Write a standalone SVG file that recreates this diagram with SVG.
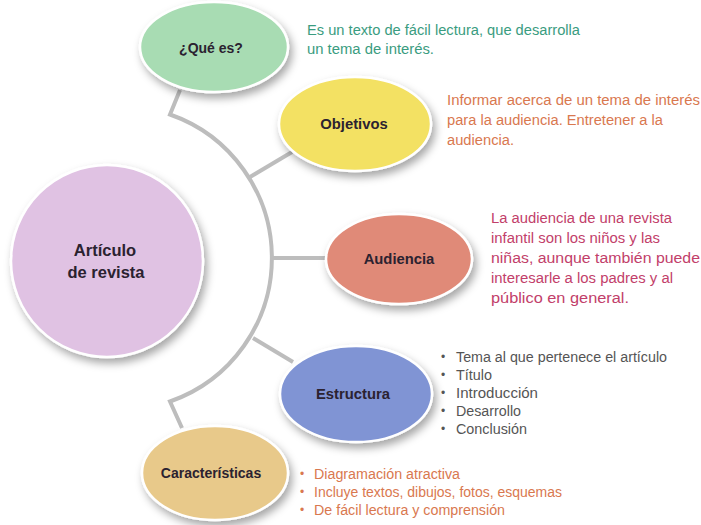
<svg xmlns="http://www.w3.org/2000/svg" width="701" height="525" viewBox="0 0 701 525">
  <defs>
    <filter id="sh" x="-30%" y="-30%" width="170%" height="170%">
      <feDropShadow dx="3" dy="5" stdDeviation="4" flood-color="#000" flood-opacity="0.35"/>
    </filter>
    <style>
      .conn { fill: none; stroke: #bdbdbd; stroke-width: 4; stroke-linecap: butt; stroke-linejoin: miter; }
      .node { stroke: #ffffff; stroke-width: 2.5; filter: url(#sh); }
      .lbl { font-family: "Liberation Sans", Arial, sans-serif; font-weight: bold; font-size: 14.8px; fill: #2b2230; text-anchor: middle; }
      .sm { font-size: 14px; }
      .big { font-size: 16.5px; }
      .txt { font-family: "Liberation Sans", Arial, sans-serif; font-size: 14px; }
      .green { fill: #3a9c80; }
      .orange { fill: #d9784f; }
      .pink { fill: #c2406a; }
      .gray { fill: #555555; }
      .bul { font-family: "Liberation Sans", Arial, sans-serif; font-size: 12px; }
    </style>
  </defs>
  <rect width="701" height="525" fill="#ffffff"/>

  <g id="connectors">
    <path class="conn" d="M180,90 L170,114.5 A152,152 0 0 1 170,401.5 L182,428"/>
    <line class="conn" x1="250" y1="177" x2="292" y2="152"/>
    <line class="conn" x1="272" y1="258" x2="328" y2="258"/>
    <line class="conn" x1="253" y1="338" x2="293" y2="362"/>
  </g>

  <g id="articulo">
    <circle class="node" cx="107" cy="261" r="96" fill="#e0c2e3"/>
    <text class="lbl big" x="105" y="256">Artículo</text>
    <text class="lbl big" x="106" y="278">de revista</text>
  </g>

  <g id="que-es">
    <ellipse class="node" cx="214" cy="47" rx="74" ry="45" fill="#a8dcb3"/>
    <text class="lbl sm" x="211" y="53">¿Qué es?</text>
  </g>

  <g id="objetivos">
    <ellipse class="node" cx="355" cy="124" rx="76" ry="47" fill="#f3e163"/>
    <text class="lbl" x="354" y="129">Objetivos</text>
  </g>

  <g id="audiencia">
    <ellipse class="node" cx="399" cy="259" rx="73" ry="45" fill="#e08a78"/>
    <text class="lbl" x="399" y="264">Audiencia</text>
  </g>

  <g id="estructura">
    <ellipse class="node" cx="356" cy="394" rx="76" ry="48" fill="#8094d4"/>
    <text class="lbl" x="353" y="399">Estructura</text>
  </g>

  <g id="caracteristicas">
    <ellipse class="node" cx="215" cy="473" rx="73" ry="47" fill="#e8c98a"/>
    <text class="lbl sm" x="211" y="478">Características</text>
  </g>

  <g id="text-que-es" class="txt green">
    <text x="307" y="35" textLength="273" lengthAdjust="spacingAndGlyphs">Es un texto de fácil lectura, que desarrolla</text>
    <text x="307" y="54" textLength="127" lengthAdjust="spacingAndGlyphs">un tema de interés.</text>
  </g>

  <g id="text-objetivos" class="txt orange">
    <text x="447" y="105" textLength="253" lengthAdjust="spacingAndGlyphs">Informar acerca de un tema de interés</text>
    <text x="447" y="125" textLength="216" lengthAdjust="spacingAndGlyphs">para la audiencia. Entretener a la</text>
    <text x="447" y="145" textLength="67" lengthAdjust="spacingAndGlyphs">audiencia.</text>
  </g>

  <g id="text-audiencia" class="txt pink">
    <text x="491" y="223" textLength="181" lengthAdjust="spacingAndGlyphs">La audiencia de una revista</text>
    <text x="491" y="243" textLength="169" lengthAdjust="spacingAndGlyphs">infantil son los niños y las</text>
    <text x="491" y="263" textLength="209" lengthAdjust="spacingAndGlyphs">niñas, aunque también puede</text>
    <text x="491" y="283" textLength="182" lengthAdjust="spacingAndGlyphs">interesarle a los padres y al</text>
    <text x="491" y="303" textLength="138" lengthAdjust="spacingAndGlyphs">público en general.</text>
  </g>

  <g id="text-estructura" class="txt gray">
    <text class="bul" x="441" y="361">•</text>
    <text x="456" y="362" textLength="211" lengthAdjust="spacingAndGlyphs">Tema al que pertenece el artículo</text>
    <text class="bul" x="441" y="379">•</text>
    <text x="456" y="380" textLength="36" lengthAdjust="spacingAndGlyphs">Título</text>
    <text class="bul" x="441" y="397">•</text>
    <text x="456" y="398" textLength="82" lengthAdjust="spacingAndGlyphs">Introducción</text>
    <text class="bul" x="441" y="415">•</text>
    <text x="456" y="416" textLength="65" lengthAdjust="spacingAndGlyphs">Desarrollo</text>
    <text class="bul" x="441" y="433">•</text>
    <text x="456" y="434" textLength="71" lengthAdjust="spacingAndGlyphs">Conclusión</text>
  </g>

  <g id="text-caracteristicas" class="txt orange">
    <text class="bul" x="300" y="478">•</text>
    <text x="314" y="479" textLength="146" lengthAdjust="spacingAndGlyphs">Diagramación atractiva</text>
    <text class="bul" x="300" y="496">•</text>
    <text x="314" y="497" textLength="248" lengthAdjust="spacingAndGlyphs">Incluye textos, dibujos, fotos, esquemas</text>
    <text class="bul" x="300" y="514">•</text>
    <text x="314" y="515" textLength="191" lengthAdjust="spacingAndGlyphs">De fácil lectura y comprensión</text>
  </g>
</svg>
